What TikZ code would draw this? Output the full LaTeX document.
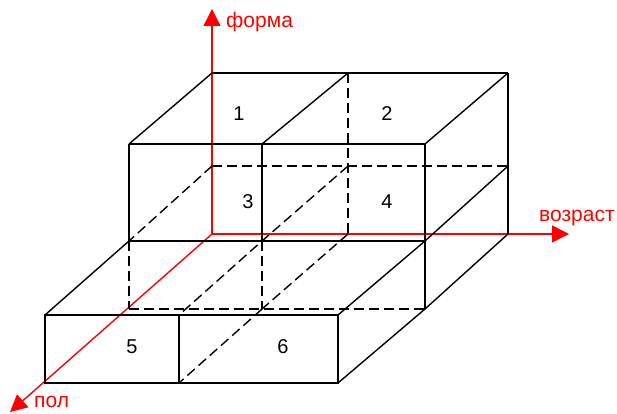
\documentclass[tikz,border=0pt]{standalone}
\usepackage{fontspec}
\setmainfont{Liberation Sans}
\usetikzlibrary{arrows.meta}
\begin{document}
\begin{tikzpicture}[x=1pt,y=-1pt,
  edge/.style={line width=1.4pt, black, line join=miter},
  hidden/.style={line width=1.4pt, black, dash pattern=on 10pt off 5pt},
  axis/.style={line width=1.4pt, red, -{Triangle[length=17pt,width=17pt]}},
  axlabel/.style={red, font=\fontsize{21}{25}\selectfont, inner sep=0pt, anchor=base west},
  cell/.style={font=\fontsize{20}{24}\selectfont, inner sep=0pt}]
\useasboundingbox (0,0) rectangle (617,414);
% back top
\coordinate (B1) at (212,73); \coordinate (B2) at (348,73); \coordinate (B3) at (508,73);
% front top of upper block
\coordinate (F1) at (129,144); \coordinate (F2) at (262,144); \coordinate (F3) at (425,144);
% back middle level
\coordinate (M1) at (212,166); \coordinate (M2) at (348,166); \coordinate (M3) at (508,166);
% back bottom level
\coordinate (O) at (212,234); \coordinate (G2) at (348,234); \coordinate (G3) at (508,234);
% front bottom of upper block
\coordinate (L1) at (129,241); \coordinate (L2) at (262,241); \coordinate (L3) at (425,241);
% back bottom of lower block
\coordinate (P1) at (129,309); \coordinate (P2) at (262,309); \coordinate (P3) at (425,309);
% lower block front
\coordinate (Q1) at (45,315); \coordinate (Q2) at (179,315); \coordinate (Q3) at (338,315);
\coordinate (R1) at (45,383); \coordinate (R2) at (179,383); \coordinate (R3) at (338,383);
% axis ends
\coordinate (Yend) at (212,9); \coordinate (Xend) at (569,234); \coordinate (Zend) at (10,412);

% red axes
\draw[axis] (O) -- (Yend);
\draw[axis] (O) -- (Xend);
\draw[axis] (O) -- (Zend);

% hidden edges
\draw[hidden] (M1) -- (M3);
\draw[hidden] (B2) -- (G2);
\draw[hidden] (M1) -- (L1);
\draw[hidden] (M2) -- (L2) -- (Q2);
\draw[hidden] (L1) -- (P1);
\draw[hidden] (L2) -- (P2);
\draw[hidden] (P1) -- (P3);
\draw[hidden] (P2) -- (R2);
\draw[hidden] (G2) -- (P2);

% visible edges
\draw[edge] (B1) -- (B3);
\draw[edge] (B1) -- (F1);
\draw[edge] (B2) -- (F2);
\draw[edge] (B3) -- (F3);
\draw[edge] (F1) -- (F3);
\draw[edge] (F1) -- (L1);
\draw[edge] (F2) -- (L2);
\draw[edge] (F3) -- (P3);
\draw[edge] (B3) -- (G3);
\draw[edge] (L1) -- (L3);
\draw[edge] (M3) -- (L3) -- (Q3);
\draw[edge] (G3) -- (P3) -- (R3);
\draw[edge] (L1) -- (Q1);
\draw[edge] (Q1) -- (Q3) -- (R3) -- (R1) -- cycle;
\draw[edge] (Q2) -- (R2);

% labels
\node[axlabel] (lforma) at (226,28) {форма};
\node[axlabel] (lage) at (539,221) {возраст};
\node[axlabel] (lsex) at (34,407) {пол};

\node[cell] (c1) at (239,114) {1};
\node[cell] (c2) at (387,114) {2};
\node[cell] (c3) at (248,202) {3};
\node[cell] (c4) at (387,202) {4};
\node[cell] (c5) at (132,347) {5};
\node[cell] (c6) at (283,347) {6};
\end{tikzpicture}
\end{document}
